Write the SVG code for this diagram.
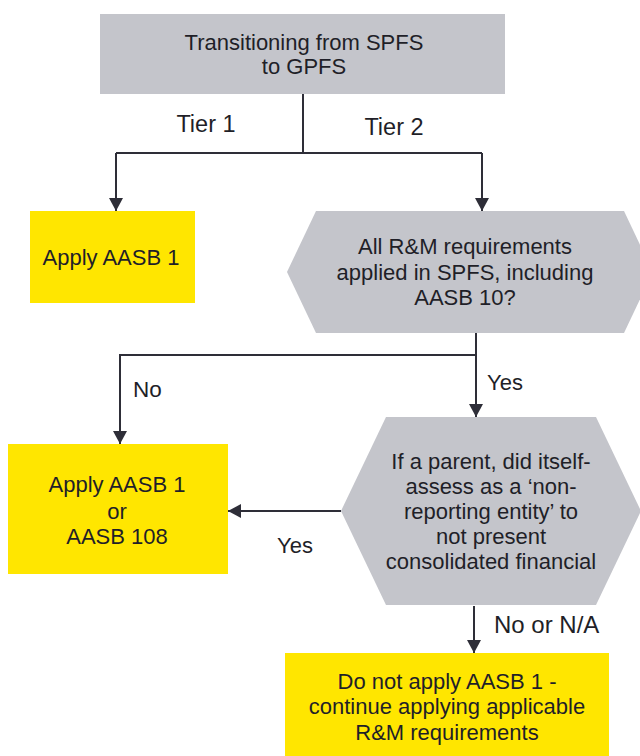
<svg xmlns="http://www.w3.org/2000/svg" width="640" height="756" viewBox="0 0 640 756">
<style>
text{font-family:"Liberation Sans",Arial,sans-serif;font-size:22px;fill:#1f1f28;text-anchor:middle}
.lbl{text-anchor:start}
.big{font-size:23.5px}
.grey{fill:#c4c5cb}
.yellow{fill:#ffe600}
.conn{fill:none;stroke:#2e2e38;stroke-width:2}
</style>
<defs>
<marker id="arr" markerUnits="userSpaceOnUse" markerWidth="14" markerHeight="14" refX="13" refY="7" orient="auto">
<path d="M0,0 L13,7 L0,14 z" fill="#2e2e38"/>
</marker>
</defs>
<rect width="640" height="756" fill="#ffffff"/>
<g id="connectors">
<path class="conn" d="M303,94 V153 M116,153 H482"/>
<path class="conn" d="M116,153 V211" marker-end="url(#arr)"/>
<path class="conn" d="M482,153 V211" marker-end="url(#arr)"/>
<path class="conn" d="M476,333 V417" marker-end="url(#arr)"/>
<path class="conn" d="M476,355 H120 V444" marker-end="url(#arr)"/>
<path class="conn" d="M341,511 H228" marker-end="url(#arr)"/>
<path class="conn" d="M474,606 V653" marker-end="url(#arr)"/>
<text class="big" x="206" y="132">Tier 1</text>
<text class="big" x="394" y="135">Tier 2</text>
<text class="lbl" x="133" y="397" style="font-size:22.5px">No</text>
<text class="lbl" x="487" y="390">Yes</text>
<text x="295" y="553">Yes</text>
<text class="lbl" x="494" y="633" style="font-size:24px">No or N/A</text>
</g>
<g id="start">
<rect class="grey" x="100" y="14" width="405" height="80"/>
<text x="304" y="50">Transitioning from SPFS</text>
<text x="304" y="74">to GPFS</text>
</g>
<g id="tier1">
<rect class="yellow" x="30" y="211" width="165" height="92"/>
<text x="111" y="265">Apply AASB 1</text>
</g>
<g id="decision1">
<polygon class="grey" points="316,211 624,211 653,272 624,333 316,333 287,272"/>
<text x="465" y="254">All R&amp;M requirements</text>
<text x="465" y="280">applied in SPFS, including</text>
<text x="465" y="305">AASB 10?</text>
</g>
<g id="option">
<rect class="yellow" x="8" y="444" width="220" height="130"/>
<text x="117" y="492">Apply AASB 1</text>
<text x="117" y="519">or</text>
<text x="117" y="544">AASB 108</text>
</g>
<g id="decision2">
<polygon class="grey" points="386,417 596,417 641,511 596,605 386,605 341,511"/>
<text x="491" y="469">If a parent, did itself-</text>
<text x="491" y="494">assess as a ‘non-</text>
<text x="491" y="519">reporting entity’ to</text>
<text x="491" y="544">not present</text>
<text x="491" y="569">consolidated financial</text>
</g>
<g id="continue">
<rect class="yellow" x="285" y="653" width="324" height="103"/>
<text x="447" y="689">Do not apply AASB 1 -</text>
<text x="447" y="714">continue applying applicable</text>
<text x="447" y="740">R&amp;M requirements</text>
</g>
</svg>
